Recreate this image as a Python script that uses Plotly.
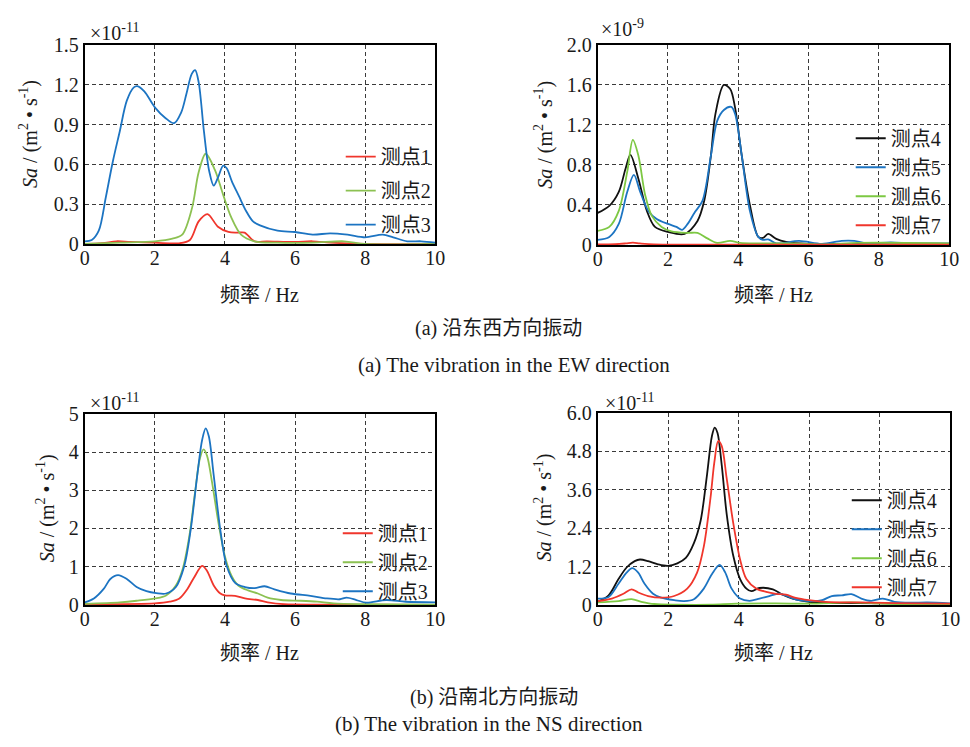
import plotly.graph_objects as go

W, H = 970, 747

# ---------------- DATA ----------------
# (a) EW direction, left panel, values in 1e-11
ew_l_p1_x = [0, 0.5, 0.9, 1.3, 2.0, 2.7, 3.0, 3.25, 3.5, 3.8, 4.1, 4.35, 4.56, 4.84, 5.2, 6.0, 6.5, 7.0, 8.0, 10]
ew_l_p1_y = [0, 0.005, 0.02, 0.015, 0.01, 0.005, 0.03, 0.17, 0.225, 0.13, 0.09, 0.085, 0.085, 0.02, 0.02, 0.015, 0.02, 0.01, 0.0, 0.0]
ew_l_p2_x = [0, 1, 2, 2.5, 2.78, 3.06, 3.25, 3.45, 3.71, 3.95, 4.18, 4.46, 4.84, 5.5, 6.5, 7.4, 8, 10]
ew_l_p2_y = [0, 0.01, 0.02, 0.04, 0.07, 0.27, 0.54, 0.68, 0.56, 0.37, 0.20, 0.07, 0.02, 0.01, 0.01, 0.02, 0.0, 0.0]
ew_l_p3_x = [0, 0.2, 0.4, 0.6, 0.8, 1.0, 1.2, 1.4, 1.5, 1.7, 2.0, 2.3, 2.55, 2.75, 2.9, 3.05, 3.15, 3.25, 3.4, 3.55,
             3.68, 3.8, 3.95, 4.05, 4.2, 4.4, 4.6, 4.8, 5.0, 5.5, 6.0, 6.5, 7.0, 7.5, 8.0, 8.5, 8.8, 9.2, 9.6, 10]
ew_l_p3_y = [0.02, 0.03, 0.10, 0.35, 0.62, 0.85, 1.08, 1.18, 1.19, 1.15, 1.03, 0.95, 0.91, 0.99, 1.13, 1.28, 1.31, 1.22, 0.85, 0.55,
             0.44, 0.50, 0.59, 0.57, 0.47, 0.36, 0.25, 0.17, 0.14, 0.10, 0.09, 0.07, 0.08, 0.07, 0.05, 0.07, 0.05, 0.02, 0.02, 0.01]

# (a) EW direction, right panel, values in 1e-9
ew_r_p4_x = [0, 0.33, 0.6, 0.79, 0.93, 1.16, 1.4, 1.63, 2.0, 2.47, 2.84, 3.03, 3.22, 3.35, 3.59, 3.77, 3.91, 4.1, 4.33,
             4.57, 4.7, 4.85, 5.08, 5.36, 6, 7, 8, 10]
ew_r_p4_y = [0.32, 0.39, 0.53, 0.76, 0.90, 0.66, 0.34, 0.18, 0.13, 0.11, 0.24, 0.44, 0.89, 1.31, 1.60, 1.56, 1.37, 0.89, 0.40,
             0.08, 0.07, 0.11, 0.06, 0.03, 0.01, 0.01, 0.005, 0.0]
ew_r_p5_x = [0, 0.33, 0.6, 0.84, 1.03, 1.21, 1.44, 1.68, 2.0, 2.24, 2.4, 2.56, 2.75, 2.98, 3.22, 3.4, 3.59, 3.8, 3.91, 4.1,
             4.33, 4.57, 4.7, 4.85, 5.08, 5.73, 6.38, 6.94, 7.3, 7.69, 8.34, 8.9, 10]
ew_r_p5_y = [0.05, 0.08, 0.21, 0.53, 0.70, 0.53, 0.34, 0.26, 0.21, 0.18, 0.15, 0.21, 0.32, 0.44, 0.89, 1.24, 1.35, 1.38, 1.31, 0.89,
             0.34, 0.08, 0.05, 0.055, 0.015, 0.04, 0.01, 0.04, 0.04, 0.015, 0.025, 0.015, 0.015]
ew_r_p6_x = [0, 0.33, 0.6, 0.84, 1.0, 1.16, 1.35, 1.54, 1.82, 2.1, 2.56, 2.84, 3.12, 3.4, 3.77, 4.05, 4.6, 5.55, 6.5, 7.4, 10]
ew_r_p6_y = [0.14, 0.18, 0.34, 0.73, 1.05, 0.89, 0.50, 0.29, 0.18, 0.135, 0.12, 0.12, 0.065, 0.02, 0.04, 0.02, 0.015, 0.015, 0.005, 0.02, 0.015]
ew_r_p7_x = [0, 0.5, 0.8, 1.0, 1.2, 1.6, 3, 10]
ew_r_p7_y = [0.005, 0.007, 0.015, 0.022, 0.015, 0.005, 0.003, 0.003]

# (b) NS direction, left panel, values in 1e-11
ns_l_p1_x = [0, 2.0, 2.42, 2.7, 2.93, 3.12, 3.35, 3.49, 3.68, 3.87, 4.0, 4.29, 4.57, 4.94, 5.22, 5.69, 7.1, 10]
ns_l_p1_y = [0.02, 0.04, 0.085, 0.17, 0.42, 0.72, 1.02, 0.89, 0.51, 0.30, 0.25, 0.24, 0.17, 0.13, 0.07, 0.02, 0.01, 0.005]
ns_l_p2_x = [0, 1.0, 1.48, 2.0, 2.32, 2.6, 2.79, 2.98, 3.15, 3.28, 3.39, 3.49, 3.63, 3.82, 4.0, 4.19, 4.38, 4.66, 4.94,
             5.22, 5.6, 6.16, 6.63, 7.1, 8.03, 10]
ns_l_p2_y = [0.03, 0.07, 0.11, 0.17, 0.25, 0.51, 0.93, 1.78, 2.97, 3.81, 4.07, 3.90, 3.22, 2.12, 1.27, 0.76, 0.51, 0.38, 0.30,
             0.19, 0.13, 0.11, 0.085, 0.04, 0.02, 0.01]
ns_l_p3_x = [0, 0.26, 0.54, 0.73, 0.95, 1.2, 1.48, 1.76, 2.04, 2.32, 2.6, 2.84, 3.02, 3.21, 3.35, 3.45, 3.54, 3.68, 3.87,
             4.05, 4.29, 4.57, 4.85, 5.13, 5.41, 5.88, 6.44, 6.91, 7.28, 7.47, 7.75, 8.03, 8.6, 9.16, 10]
ns_l_p3_y = [0.07, 0.17, 0.42, 0.68, 0.78, 0.68, 0.47, 0.36, 0.31, 0.30, 0.47, 1.02, 1.95, 3.39, 4.32, 4.62, 4.41, 3.39, 1.95,
             1.02, 0.58, 0.47, 0.44, 0.49, 0.41, 0.30, 0.24, 0.17, 0.15, 0.19, 0.13, 0.06, 0.13, 0.085, 0.07]

# (b) NS direction, right panel, values in 1e-11
ns_r_p4_x = [0, 0.31, 0.59, 0.82, 1.05, 1.2, 1.43, 1.71, 1.99, 2.26, 2.5, 2.73, 2.92, 3.1, 3.24, 3.32, 3.4, 3.52, 3.66,
             3.85, 4.04, 4.22, 4.36, 4.59, 4.97, 5.25, 5.53, 5.99, 6.46, 7.39, 8.32, 10]
ns_r_p4_y = [0.10, 0.30, 0.81, 1.17, 1.37, 1.42, 1.37, 1.27, 1.22, 1.30, 1.47, 1.93, 2.63, 4.05, 5.27, 5.54, 5.37, 4.36, 2.84,
             1.52, 0.81, 0.51, 0.43, 0.53, 0.49, 0.32, 0.20, 0.10, 0.07, 0.06, 0.05, 0.03]
ns_r_p5_x = [0, 0.31, 0.59, 0.82, 0.98, 1.15, 1.33, 1.57, 1.8, 2.17, 2.45, 2.73, 3.01, 3.24, 3.46, 3.62, 3.8, 4.04, 4.31,
             4.59, 4.87, 5.15, 5.43, 5.71, 6.09, 6.37, 6.64, 6.92, 7.2, 7.48, 7.76, 8.09, 8.42, 8.88, 9.35, 10]
ns_r_p5_y = [0.20, 0.25, 0.66, 1.01, 1.15, 1.01, 0.66, 0.35, 0.23, 0.15, 0.12, 0.18, 0.51, 0.96, 1.25, 1.01, 0.51, 0.20, 0.13,
             0.20, 0.28, 0.35, 0.25, 0.15, 0.12, 0.15, 0.28, 0.30, 0.34, 0.20, 0.13, 0.20, 0.10, 0.07, 0.08, 0.05]
ns_r_p6_x = [0, 0.59, 0.96, 1.24, 1.61, 2.26, 3.2, 3.94, 5.06, 6.0, 7.2, 7.86, 8.79, 10]
ns_r_p6_y = [0.08, 0.12, 0.18, 0.10, 0.03, 0.01, 0.01, 0.04, 0.05, 0.04, 0.08, 0.05, 0.02, 0.02]
ns_r_p7_x = [0, 0.4, 0.73, 0.96, 1.15, 1.43, 1.8, 2.17, 2.54, 2.82, 3.01, 3.2, 3.31, 3.42, 3.52, 3.66, 3.85, 4.04, 4.22,
             4.5, 4.78, 5.06, 5.34, 5.62, 5.99, 6.46, 7.39, 8.32, 10]
ns_r_p7_y = [0.12, 0.20, 0.35, 0.49, 0.39, 0.28, 0.23, 0.28, 0.51, 1.01, 1.82, 3.34, 4.46, 5.12, 4.96, 3.95, 2.53, 1.42, 0.81,
             0.51, 0.41, 0.35, 0.32, 0.22, 0.15, 0.10, 0.08, 0.06, 0.04]

x_ticks = [0, 2, 4, 6, 8, 10]
y_ticks_ew_l = [0, 0.3, 0.6, 0.9, 1.2, 1.5]
y_text_ew_l = ["0", "0.3", "0.6", "0.9", "1.2", "1.5"]
y_ticks_ew_r = [0, 0.4, 0.8, 1.2, 1.6, 2.0]
y_text_ew_r = ["0", "0.4", "0.8", "1.2", "1.6", "2.0"]
y_ticks_ns_l = [0, 1, 2, 3, 4, 5]
y_text_ns_l = ["0", "1", "2", "3", "4", "5"]
y_ticks_ns_r = [0, 1.2, 2.4, 3.6, 4.8, 6.0]
y_text_ns_r = ["0", "1.2", "2.4", "3.6", "4.8", "6.0"]

exp_labels = ["×10<sup>-11</sup>", "×10<sup>-9</sup>", "×10<sup>-11</sup>", "×10<sup>-11</sup>"]
captions = ["(a) 沿东西方向振动", "(a) The vibration in the EW direction",
            "(b) 沿南北方向振动", "(b) The vibration in the NS direction"]

# ---------------- STYLE ----------------
RED = "#F0362C"
GREEN = "#8CC152"
GREEN2 = "#7DC843"
BLUE = "#1C74C2"
BLACK = "#111111"
FONT = "'Liberation Serif', 'Times New Roman', 'Noto Sans CJK SC', serif"
TXT = "#1a1a1a"


def px_x(p):
    return p / W


def px_y(p):
    return 1 - p / H


# panel pixel boxes: (left, right, top, bottom)
panels = [
    (81, 437, 35, 240),
    (602, 959, 35, 241),
    (81, 437, 415, 612),
    (602, 960, 414, 612),
]

fig = go.Figure()

series = [
    (0, "测点1", ew_l_p1_x, ew_l_p1_y, RED, "legend"),
    (0, "测点2", ew_l_p2_x, ew_l_p2_y, GREEN, "legend"),
    (0, "测点3", ew_l_p3_x, ew_l_p3_y, BLUE, "legend"),
    (1, "测点4", ew_r_p4_x, ew_r_p4_y, BLACK, "legend2"),
    (1, "测点5", ew_r_p5_x, ew_r_p5_y, BLUE, "legend2"),
    (1, "测点6", ew_r_p6_x, ew_r_p6_y, GREEN2, "legend2"),
    (1, "测点7", ew_r_p7_x, ew_r_p7_y, RED, "legend2"),
    (2, "测点1", ns_l_p1_x, ns_l_p1_y, RED, "legend3"),
    (2, "测点2", ns_l_p2_x, ns_l_p2_y, GREEN, "legend3"),
    (2, "测点3", ns_l_p3_x, ns_l_p3_y, BLUE, "legend3"),
    (3, "测点4", ns_r_p4_x, ns_r_p4_y, BLACK, "legend4"),
    (3, "测点5", ns_r_p5_x, ns_r_p5_y, BLUE, "legend4"),
    (3, "测点6", ns_r_p6_x, ns_r_p6_y, GREEN2, "legend4"),
    (3, "测点7", ns_r_p7_x, ns_r_p7_y, RED, "legend4"),
]

for i, (pi, name, xs, ys, col, leg) in enumerate(series):
    ax = "" if pi == 0 else str(pi + 1)
    fig.add_trace(go.Scatter(
        x=xs, y=ys, name=name, mode="lines",
        line=dict(color=col, width=1.8, shape="spline", smoothing=0.9),
        xaxis="x" + ax, yaxis="y" + ax, legend=leg, legendgroup="g%d" % i,
        showlegend=True,
    ))

yranges = [(y_ticks_ew_l, y_text_ew_l), (y_ticks_ew_r, y_text_ew_r),
           (y_ticks_ns_l, y_text_ns_l), (y_ticks_ns_r, y_text_ns_r)]

layout = dict(
    width=W, height=H, margin=dict(l=0, r=0, t=0, b=0),
    paper_bgcolor="white", plot_bgcolor="white",
    font=dict(family=FONT, size=20, color=TXT),
)

for pi, (l, r, t, b) in enumerate(panels):
    sfx = "" if pi == 0 else str(pi + 1)
    tv, tt = yranges[pi]
    common = dict(
        showgrid=True, gridcolor="#3a3a3a", gridwidth=1, griddash="4px,3px",
        showline=True, mirror=True, linecolor="black", linewidth=2,
        ticks="", zeroline=False, fixedrange=True,
        tickfont=dict(family=FONT, size=20, color=TXT),
    )
    layout["xaxis" + sfx] = dict(
        common, domain=[px_x(l), px_x(r)], range=[0, 10],
        tickvals=x_ticks, ticktext=[str(v) for v in x_ticks],
        anchor="y" + sfx, ticklabelstandoff=-5,
    )
    layout["yaxis" + sfx] = dict(
        common, domain=[px_y(b), px_y(t)], range=[0, tv[-1]],
        tickvals=tv, ticktext=tt, anchor="x" + sfx, ticklabelstandoff=0,
    )

# legends: (x of item start px, y top px, gap)
legend_pos = [(341, 130, 5), (859, 111, 0), (338, 518, 0), (855, 484, 0)]
for k, (lx, ly, gap) in enumerate(legend_pos):
    key = "legend" if k == 0 else "legend%d" % (k + 1)
    layout[key] = dict(
        x=px_x(lx), y=px_y(ly), xanchor="left", yanchor="top",
        bgcolor="rgba(0,0,0,0)", borderwidth=0,
        font=dict(family=FONT, size=20, color=TXT),
        tracegroupgap=gap, itemwidth=30,
    )

fig.update_layout(**layout)

ann = []
exp_pos = [(84, 22), (603, 18), (84, 403), (607, 403)]
for (ex, ey), txt in zip(exp_pos, exp_labels):
    ann.append(dict(text=txt, x=px_x(ex), y=px_y(ey), xref="paper", yref="paper",
                    xanchor="left", yanchor="middle", showarrow=False,
                    font=dict(family=FONT, size=20, color=TXT)))
ytitle = "<i>Sa</i> / (m<sup>2</sup> • s<sup>-1</sup>)"
ytitle_pos = [(24, 127), (547, 128), (42, 512), (547, 512)]
for (tx, ty) in ytitle_pos:
    ann.append(dict(text=ytitle, x=px_x(tx), y=px_y(ty), xref="paper", yref="paper",
                    xanchor="center", yanchor="middle", textangle=-90, showarrow=False,
                    font=dict(family=FONT, size=20, color=TXT)))
for pi, (l, r, t, b) in enumerate(panels):
    ty = 293 if pi < 2 else 661
    ann.append(dict(text="频率 / Hz", x=px_x((l + r) / 2), y=px_y(ty), xref="paper", yref="paper",
                    xanchor="center", yanchor="middle", showarrow=False,
                    font=dict(family=FONT, size=20, color=TXT)))
cap_pos = [(501, 327), (517, 365), (497, 707), (492, 735)]
cap_size = [20, 21, 20, 21]
for (cx, cy), txt, fs in zip(cap_pos, captions, cap_size):
    ann.append(dict(text=txt, x=px_x(cx), y=px_y(cy), xref="paper", yref="paper",
                    xanchor="center", yanchor="middle", showarrow=False,
                    font=dict(family=FONT, size=fs, color=TXT)))

fig.update_layout(annotations=ann)

fig.write_html("out.html")
